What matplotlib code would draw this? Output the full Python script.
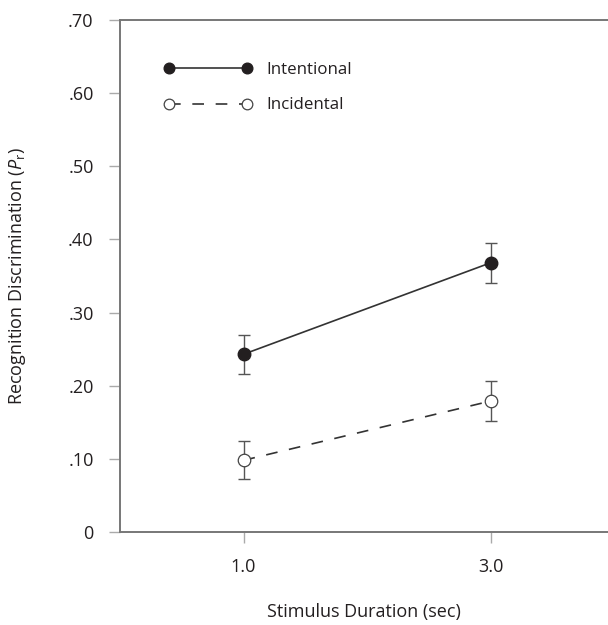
import matplotlib
matplotlib.use('Agg')
import matplotlib.pyplot as plt

plt.rcParams['font.family'] = ['Open Sans', 'DejaVu Sans']
plt.rcParams['mathtext.fontset'] = 'custom'
plt.rcParams['mathtext.rm'] = 'Open Sans'
plt.rcParams['mathtext.it'] = 'Open Sans:italic'

durations = [1.0, 3.0]
intentional = [0.243, 0.368]
intentional_err = [0.027, 0.027]
incidental = [0.098, 0.179]
incidental_err = [0.026, 0.027]
yticks = [0, 0.10, 0.20, 0.30, 0.40, 0.50, 0.60, 0.70]
ytick_labels = ['0', '.10', '.20', '.30', '.40', '.50', '.60', '.70']
xtick_labels = ['1.0', '3.0']

fig = plt.figure(figsize=(6.08, 6.25), dpi=100)
ax = fig.add_axes([120 / 608, 93 / 625, 494 / 608, 512 / 625])

line_col = '#333333'
err_col = '#555555'
text_col = '#231f20'

ax.errorbar(durations, intentional, yerr=intentional_err, fmt='none',
            ecolor=err_col, elinewidth=1.0, capsize=4.3, capthick=1.0, zorder=2)
ax.errorbar(durations, incidental, yerr=incidental_err, fmt='none',
            ecolor=err_col, elinewidth=1.0, capsize=4.3, capthick=1.0, zorder=2)

ax.plot(durations, intentional, '-', color=line_col, lw=1.2,
        marker='o', markersize=9, markerfacecolor='#231f20',
        markeredgecolor='#231f20', label='Intentional', zorder=3)
ax.plot(durations, incidental, color=line_col, lw=1.2, dashes=(7, 7),
        marker='o', markersize=9, markerfacecolor='white',
        markeredgecolor='#444444', markeredgewidth=0.9,
        label='Incidental', zorder=3)

ax.set_xlim(0, 4)
ax.set_ylim(0, 0.70)
ax.set_xticks(durations)
ax.set_xticklabels(xtick_labels)
ax.set_yticks(yticks)
ax.set_yticklabels(ytick_labels)

for side in ['left', 'bottom', 'top']:
    ax.spines[side].set_color('#777777')
    ax.spines[side].set_linewidth(1.4)
ax.spines['right'].set_visible(False)

ax.tick_params(axis='both', direction='out', length=8, width=1.0,
               color='#aaaaaa', labelsize=13, labelcolor=text_col, pad=11)

ax.set_ylabel(r'Recognition Discrimination ($P_{\mathrm{r}}$)', fontsize=13,
              color=text_col)
ax.yaxis.set_label_coords(-92 / 494, 0.5)
ax.set_xlabel('Stimulus Duration (sec)', fontsize=13, color=text_col)
ax.xaxis.set_label_coords(244 / 494, -71 / 512)

leg = ax.legend(loc='upper left', bbox_to_anchor=(0.089, 0.918), frameon=False,
                numpoints=2, handlelength=5.2, handletextpad=0.85,
                labelspacing=1.15, fontsize=12.2, markerscale=0.85,
                borderaxespad=0, borderpad=0)
for t in leg.get_texts():
    t.set_color(text_col)

fig.savefig('out.png', dpi=100)
